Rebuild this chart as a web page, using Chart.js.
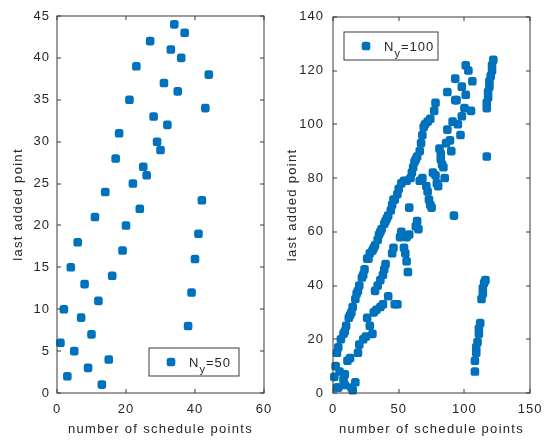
<!DOCTYPE html>
<html>
<head>
<meta charset="utf-8">
<script src="https://cdn.jsdelivr.net/npm/chart.js@4.4.1/dist/chart.umd.min.js"></script>
<style>
  html, body { margin: 0; padding: 0; background: #fff; }
  #wrap { position: relative; width: 550px; height: 441px; }
  #wrap canvas { position: absolute; left: 0; top: 0; }
</style>
</head>
<body>
<div id="wrap">
  <canvas id="left" width="550" height="441"></canvas>
  <canvas id="right" width="550" height="441"></canvas>
</div>
<script>
// N_y = 50 run
const x50 = [1, 2, 3, 4, 5, 6, 7, 8, 9, 10, 11, 12, 13, 14, 15, 16, 17, 18, 19, 20, 21, 22,
             23, 24, 25, 26, 27, 28, 29, 30, 31, 32, 33, 34, 35, 36, 37, 38, 39, 40, 41, 42, 43, 44];
const y50 = [6, 10, 2, 15, 5, 18, 9, 13, 3, 7, 21, 11, 1, 24, 4, 14, 28, 31, 17, 20, 35, 25,
             39, 22, 27, 26, 42, 33, 30, 29, 37, 32, 41, 44, 36, 40, 43, 8, 12, 16, 19, 23, 34, 38];

// N_y = 100 run (grouped roughly by strand)
const x100 = [
  1, 2, 3, 4, 5, 8, 9, 9, 11, 13, 14, 15, 17,
  19, 20, 23, 25, 26, 28, 30, 31, 33, 36, 38, 42, 47, 49,
  32, 34, 36, 38, 39, 40, 45, 46, 51, 52, 54, 55, 56, 57, 56, 58, 63, 64, 58, 68,
  72, 73, 75, 76, 80, 82, 84, 85, 81, 86, 87, 89, 90, 91, 93, 95, 97, 98, 100, 105, 92,
  66, 71, 74, 78, 79, 83, 82, 65,
  3, 4, 6, 8, 10, 12, 14, 15, 17, 18, 20, 22, 24, 26, 28, 30, 32, 34, 35, 37, 39, 40,
  42, 44, 45, 47, 49, 50, 52, 56, 59, 60, 61, 62, 64, 66, 67, 68, 69, 72, 74, 77, 78,
  9, 13, 19, 23, 27, 31, 36, 41, 46, 54, 63, 70,
  87, 93, 98, 101, 103, 106, 101, 94,
  108, 108, 109, 109, 110, 111, 111, 112, 113, 114, 114, 115, 116,
  117, 117, 117, 118, 118, 119, 119, 120, 121, 121, 122
];
const y100 = [
  6, 10, 2, 2, 8, 5, 7, 3, 12, 13, 2, 1, 4,
  15, 18, 20, 21, 28, 25, 22, 30, 31, 32, 33, 36, 33, 33,
  38, 40, 42, 44, 46, 48, 52, 54, 58, 60, 54, 52, 49, 45, 58, 59, 62, 64, 69, 80,
  75, 72, 69, 82, 77, 87, 84, 80, 91, 93, 98, 94, 90, 101, 109, 100, 96, 103, 106, 105, 66,
  79, 77, 70, 81, 78, 85, 89, 61,
  15, 17, 20, 22, 25, 28, 30, 32, 35, 37, 40, 43, 46, 50, 52, 53, 55, 57, 59, 61, 63, 64,
  66, 68, 70, 72, 74, 76, 78, 79, 80, 82, 84, 86, 88, 90, 93, 96, 99, 101, 102, 105, 108,
  23, 29, 38, 44, 50, 54, 60, 65, 72, 79, 87, 100,
  112, 117, 114, 122, 120, 116, 111, 109,
  8, 12, 15, 17, 19, 22, 24, 26, 35, 37, 39, 41, 42,
  88, 106, 108, 110, 112, 114, 116, 118, 120, 122, 124
];

const xTicks50 = [0, 20, 40, 60];
const yTicks50 = [0, 5, 10, 15, 20, 25, 30, 35, 40, 45];
const xTicks100 = [0, 50, 100, 150];
const yTicks100 = [0, 20, 40, 60, 80, 100, 120, 140];

const BLUE = '#0072BD';
const TEXT = '#262626';
const EDGE = '#3a3a3a';
const FAMILY = '"Liberation Sans", Arial, Helvetica, sans-serif';

function toPoints(xs, ys) {
  return xs.map((x, i) => ({ x: x, y: ys[i] }));
}

function marker(ctx, x, y) {
  ctx.fillStyle = BLUE;
  ctx.beginPath();
  if (ctx.roundRect) ctx.roundRect(x - 4.3, y - 4.3, 8.6, 8.6, 2.6);
  else ctx.rect(x - 4.3, y - 4.3, 8.6, 8.6);
  ctx.fill();
}

// box with inward ticks on all sides, axis titles, and a legend like the Octave one
function octavePlugin(cfg) {
  return {
    id: 'octave',
    beforeDraw(chart) {
      chart.ctx.letterSpacing = '1px';
    },
    afterDatasetsDraw(chart) {
      const ctx = chart.ctx;
      const a = chart.chartArea;
      const sx = chart.scales.x, sy = chart.scales.y;
      // whole-pixel coordinates give the soft 2px grey edge of the original
      const L = Math.round(a.left), R = Math.round(a.right);
      const T = Math.round(a.top), B = Math.round(a.bottom);
      ctx.save();
      ctx.strokeStyle = EDGE;
      ctx.lineWidth = 1;
      ctx.strokeRect(L, T, R - L, B - T);
      ctx.beginPath();
      cfg.xTicks.forEach(v => {
        const p = Math.round(sx.getPixelForValue(v));
        ctx.moveTo(p, B); ctx.lineTo(p, B - 4);
        ctx.moveTo(p, T); ctx.lineTo(p, T + 4);
      });
      cfg.yTicks.forEach(v => {
        const p = Math.round(sy.getPixelForValue(v));
        ctx.moveTo(L, p); ctx.lineTo(L + 4, p);
        ctx.moveTo(R, p); ctx.lineTo(R - 4, p);
      });
      ctx.stroke();

      // axis titles
      ctx.fillStyle = TEXT;
      ctx.font = '13px ' + FAMILY;
      ctx.textAlign = 'center';
      ctx.textBaseline = 'middle';
      ctx.letterSpacing = '1.3px';
      ctx.fillText('number of schedule points', (a.left + a.right) / 2, 429);
      ctx.save();
      ctx.translate(cfg.yTitleX, (a.top + a.bottom) / 2);
      ctx.rotate(-Math.PI / 2);
      ctx.fillText('last added point', 0, 0);
      ctx.restore();

      // legend
      const lg = cfg.legend;
      ctx.fillStyle = '#fff';
      ctx.fillRect(lg.x, lg.y, lg.w, lg.h);
      ctx.strokeStyle = EDGE;
      ctx.strokeRect(lg.x, lg.y, lg.w, lg.h);
      const mid = lg.y + lg.h / 2;
      marker(ctx, lg.x + 22, mid);
      ctx.fillStyle = TEXT;
      ctx.textAlign = 'left';
      ctx.textBaseline = 'alphabetic';
      ctx.letterSpacing = '1px';
      ctx.font = '13px ' + FAMILY;
      let tx = lg.x + 40;
      ctx.fillText('N', tx, mid + 5);
      tx += ctx.measureText('N').width;
      ctx.font = '11px ' + FAMILY;
      ctx.fillText('y', tx, mid + 11);
      tx += ctx.measureText('y').width;
      ctx.font = '13px ' + FAMILY;
      ctx.fillText(lg.rest, tx, mid + 5);
      ctx.restore();
    }
  };
}

function makeChart(id, xs, ys, c) {
  new Chart(document.getElementById(id), {
    type: 'scatter',
    data: {
      datasets: [{
        data: toPoints(xs, ys),
        pointStyle: 'rectRounded',
        pointRadius: 5,
        pointHoverRadius: 5,
        pointBackgroundColor: BLUE,
        pointBorderWidth: 0,
        clip: false
      }]
    },
    options: {
      responsive: false,
      animation: false,
      events: [],
      layout: { padding: { left: c.padLeft, right: c.padRight, top: 16, bottom: 0 } },
      plugins: { legend: { display: false }, tooltip: { enabled: false } },
      scales: {
        x: {
          type: 'linear', min: c.xTicks[0], max: c.xTicks[c.xTicks.length - 1],
          afterFit: s => { s.height = 48; },
          afterBuildTicks: s => { s.ticks = c.xTicks.map(v => ({ value: v })); },
          grid: { display: false, drawTicks: false },
          border: { display: false },
          ticks: { padding: 9, color: TEXT, font: { family: FAMILY, size: 13 }, maxRotation: 0 }
        },
        y: {
          type: 'linear', min: c.yTicks[0], max: c.yTicks[c.yTicks.length - 1],
          afterFit: s => { s.width = c.yWidth; },
          afterBuildTicks: s => { s.ticks = c.yTicks.map(v => ({ value: v })); },
          grid: { display: false, drawTicks: false },
          border: { display: false },
          ticks: { padding: c.yPad, color: TEXT, font: { family: FAMILY, size: 13 } }
        }
      }
    },
    plugins: [octavePlugin(c)]
  });
}

makeChart('left', x50, y50, {
  padLeft: 0, padRight: 286, yWidth: 57, yPad: 7,
  xTicks: xTicks50, yTicks: yTicks50, yTitleX: 18,
  legend: { x: 149, y: 348, w: 90, h: 28, rest: '=50' }
});

makeChart('right', x100, y100, {
  padLeft: 280, padRight: 10, yWidth: 53, yPad: 9,
  xTicks: xTicks100, yTicks: yTicks100, yTitleX: 292,
  legend: { x: 344, y: 32, w: 94, h: 28, rest: '=100' }
});
</script>
</body>
</html>
